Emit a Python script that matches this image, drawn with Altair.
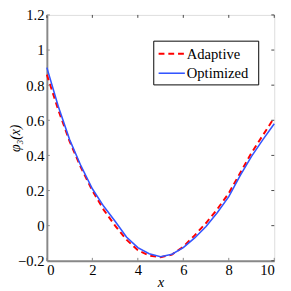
import altair as alt
import pandas as pd

x_vals = [0, 0.5, 1, 1.5, 2, 2.5, 3, 3.5, 4, 4.5, 5, 5.5, 6, 6.5, 7, 7.5, 8, 8.5, 9, 9.5, 10]
adaptive = [0.86, 0.66, 0.48, 0.33, 0.20, 0.09, 0.0, -0.08, -0.14, -0.17, -0.18, -0.165, -0.12,
            -0.055, 0.015, 0.095, 0.185, 0.30, 0.415, 0.515, 0.615]
optimized = [0.90, 0.68, 0.49, 0.34, 0.21, 0.11, 0.025, -0.065, -0.125, -0.16, -0.177, -0.163,
             -0.125, -0.07, -0.005, 0.075, 0.165, 0.285, 0.395, 0.49, 0.58]
x_ticks = [0, 2, 4, 6, 8, 10]
y_ticks = [-0.2, 0, 0.2, 0.4, 0.6, 0.8, 1, 1.2]
series_names = ["Adaptive", "Optimized"]

W, H = 234, 253
FONT = "Liberation Serif"

df = pd.DataFrame({
    "x": x_vals * 2,
    "y": adaptive + optimized,
    "s": [series_names[0]] * len(x_vals) + [series_names[1]] * len(x_vals),
})

xs = alt.Scale(domain=[0, 10], nice=False, zero=False)
ys = alt.Scale(domain=[-0.2, 1.2], nice=False, zero=False)

xaxis = alt.Axis(values=x_ticks, title="x", grid=False, ticks=False,
                 domainColor="#888888", domainWidth=2,
                 labelFont=FONT, labelFontSize=15, labelColor="#000000",
                 labelPadding=2, labelOverlap=False,
                 titleFont=FONT, titleFontSize=15, titleFontStyle="italic",
                 titleFontWeight="normal", titlePadding=-3)
yaxis = alt.Axis(values=y_ticks, title="φ₃(x)", grid=False, ticks=False,
                 domainColor="#888888", domainWidth=2,
                 labelFont=FONT, labelFontSize=15, labelColor="#000000",
                 labelPadding=3, labelOverlap=False, labelFlush=False,
                 labelExpr="datum.value == 0 ? '0' : replace(format(datum.value, '.1~f'), '-', '\u2212')",
                 titleFont=FONT, titleFontSize=14, titleFontStyle="italic",
                 titleFontWeight="normal", titleX=-32, titleY=H / 2,
                 titleAngle=270, titleAlign="center", titleBaseline="middle")

base = alt.Chart(df)

red = base.transform_filter(alt.datum.s == "Adaptive").mark_line(
    color="#FF0000", strokeWidth=2, strokeDash=[6, 4]
).encode(x=alt.X("x:Q", scale=xs, axis=xaxis), y=alt.Y("y:Q", scale=ys, axis=yaxis))

blue = base.transform_filter(alt.datum.s == "Optimized").mark_line(
    color="#3355FF", strokeWidth=1.6
).encode(x=alt.X("x:Q", scale=xs, axis=xaxis), y=alt.Y("y:Q", scale=ys, axis=yaxis))

# inward ticks
xt = pd.DataFrame({"x": x_ticks})
yt = pd.DataFrame({"y": y_ticks})
xtick_bottom = alt.Chart(xt).mark_rule(color="#888888", strokeWidth=1).encode(
    x=alt.X("x:Q", scale=xs, axis=xaxis), y=alt.value(H), y2=alt.value(H - 3))
xtick_top = alt.Chart(xt).mark_rule(color="#444444", strokeWidth=1).encode(
    x=alt.X("x:Q", scale=xs, axis=xaxis), y=alt.value(0), y2=alt.value(3))
ytick_left = alt.Chart(yt).mark_rule(color="#888888", strokeWidth=1).encode(
    y=alt.Y("y:Q", scale=ys, axis=yaxis), x=alt.value(0), x2=alt.value(3))
ytick_right = alt.Chart(yt).mark_rule(color="#444444", strokeWidth=1).encode(
    y=alt.Y("y:Q", scale=ys, axis=yaxis), x=alt.value(W), x2=alt.value(W - 3))

# legend
leg = pd.DataFrame({"s": series_names})
box = alt.Chart(leg.head(1)).mark_rect(fill="white", stroke="#000000", strokeWidth=1).encode(
    x=alt.value(110), x2=alt.value(218), y=alt.value(27), y2=alt.value(72))
leg_red = alt.Chart(leg.head(1)).mark_rule(color="#FF0000", strokeWidth=2, strokeDash=[6, 4]).encode(
    x=alt.value(115), x2=alt.value(142), y=alt.value(40))
leg_blue = alt.Chart(leg.head(1)).mark_rule(color="#3355FF", strokeWidth=1.6).encode(
    x=alt.value(115), x2=alt.value(142), y=alt.value(60))
leg_t1 = alt.Chart(leg.head(1)).mark_text(align="left", baseline="middle", font=FONT, fontSize=15,
                                          color="#000000").encode(
    x=alt.value(144), y=alt.value(40), text=alt.value(series_names[0]))
leg_t2 = alt.Chart(leg.head(1)).mark_text(align="left", baseline="middle", font=FONT, fontSize=15,
                                          color="#000000").encode(
    x=alt.value(144), y=alt.value(60), text=alt.value(series_names[1]))

chart = alt.layer(red, blue, xtick_bottom, xtick_top, ytick_left, ytick_right,
                  box, leg_red, leg_blue, leg_t1, leg_t2).properties(
    width=W, height=H,
    autosize="none",
    padding={"left": 40, "top": 3, "right": 9, "bottom": 28},
).configure_view(stroke="#333333", strokeWidth=1).configure(background="white")

chart.save("out.html", embed_options={"renderer": "svg", "actions": False})
